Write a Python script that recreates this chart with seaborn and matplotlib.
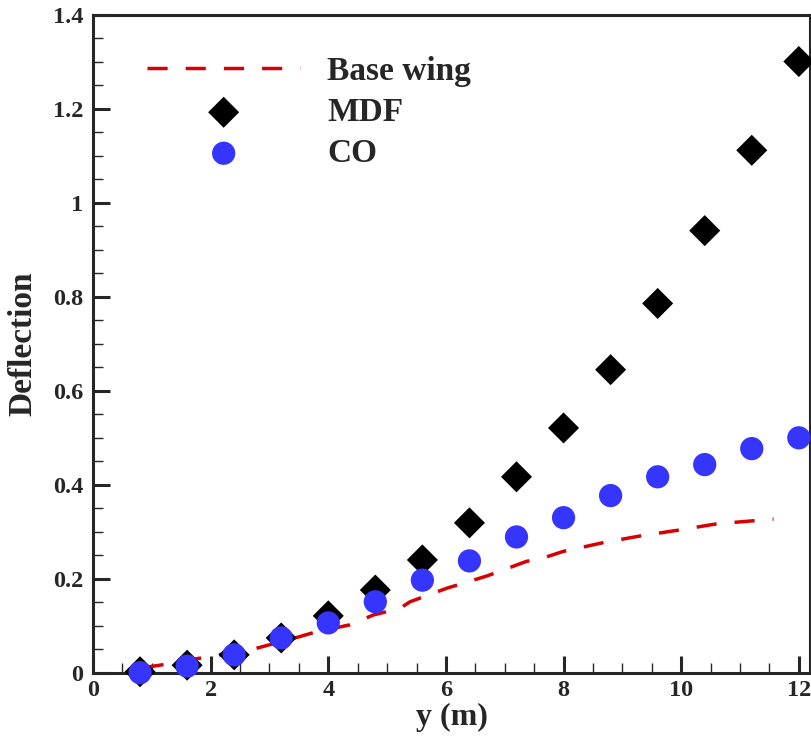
import numpy as np
import pandas as pd
import matplotlib
matplotlib.use("Agg")
import matplotlib.pyplot as plt
from matplotlib.ticker import MultipleLocator, FuncFormatter
import seaborn as sns

# ---- data ----
span_pts = [0.8, 1.6, 2.4, 3.2, 4.0, 4.8, 5.6, 6.4, 7.2, 8.0, 8.8, 9.6, 10.4, 11.2, 12.0]
mdf_defl = [0.002, 0.016, 0.038, 0.074, 0.121, 0.176, 0.240, 0.319, 0.417, 0.521,
            0.645, 0.786, 0.941, 1.112, 1.301]
co_defl = [0.000, 0.014, 0.038, 0.074, 0.106, 0.151, 0.197, 0.238, 0.289, 0.330,
           0.377, 0.417, 0.443, 0.477, 0.500]
base_y = [0.86, 1.14, 1.82, 2.78, 3.52, 3.74, 4.37, 4.77, 5.22, 5.39, 6.02, 6.70,
          7.37, 7.65, 7.99, 8.68, 9.30, 9.98, 10.61, 11.29, 11.57]
base_defl = [0.011, 0.016, 0.031, 0.052, 0.077, 0.085, 0.102, 0.123, 0.137, 0.151,
             0.180, 0.206, 0.237, 0.244, 0.258, 0.277, 0.291, 0.304, 0.317, 0.324, 0.327]
x_ticks = [0, 2, 4, 6, 8, 10, 12]
y_ticks = [0, 0.2, 0.4, 0.6, 0.8, 1.0, 1.2, 1.4]

sns.set_style("ticks")
plt.rcParams["font.family"] = ["Liberation Serif", "DejaVu Serif"]
plt.rcParams["font.weight"] = "bold"

fig = plt.figure(figsize=(8.12, 7.37), dpi=100)
ax = fig.add_axes([93 / 812, 1 - 672.7 / 737, (810 - 93) / 812, (672.7 - 15) / 737])

base_df = pd.DataFrame({"y": base_y, "d": base_defl})
mdf_df = pd.DataFrame({"y": span_pts, "d": mdf_defl})
co_df = pd.DataFrame({"y": span_pts, "d": co_defl})

sns.lineplot(data=base_df, x="y", y="d", ax=ax, color="#d80000", lw=2.5,
             linestyle=(0, (5.8, 5.2)), label="Base wing", zorder=3)
sns.scatterplot(data=mdf_df, x="y", y="d", ax=ax, marker="D", color="black",
                s=250, edgecolor="none", label="MDF", zorder=5, clip_on=False)
sns.scatterplot(data=co_df, x="y", y="d", ax=ax, marker="o", color="#3535ff",
                s=280, edgecolor="none", label="CO", zorder=6, clip_on=False)

ax.set_xlim(0, 12.19)
ax.set_ylim(0, 1.4)
ax.set_xticks(x_ticks)
ax.set_yticks(y_ticks)
fmt = FuncFormatter(lambda v, p: "%g" % v)
ax.xaxis.set_major_formatter(fmt)
ax.yaxis.set_major_formatter(fmt)
ax.xaxis.set_minor_locator(MultipleLocator(0.5))
ax.yaxis.set_minor_locator(MultipleLocator(0.05))
ax.tick_params(which="major", direction="in", length=12, width=2.2, labelsize=17.5,
               top=False, right=False)
ax.tick_params(axis="x", which="major", pad=5)
ax.tick_params(axis="y", which="major", pad=7)
ax.tick_params(which="minor", direction="in", length=7, width=1.0,
               top=False, right=False)
for lab in ax.get_xticklabels() + ax.get_yticklabels():
    lab.set_fontweight("bold")
for side in ["left", "bottom", "top"]:
    ax.spines[side].set_linewidth(2.2)
ax.spines["right"].set_linewidth(1.5)

ax.set_xlabel("y (m)", fontsize=23, fontweight="bold")
ax.set_ylabel("Deflection", fontsize=24, fontweight="bold")
ax.xaxis.set_label_coords(0.5, (672.7 - 703) / 657.7)
ax.yaxis.set_label_coords((38 - 93) / 717, 0.5)

leg = ax.legend(loc="upper left", bbox_to_anchor=(147 / 812, 1 - 56 / 737),
                bbox_transform=fig.transFigure, frameon=False, fontsize=24,
                borderpad=0, borderaxespad=0, handlelength=4.6, handletextpad=0.8,
                labelspacing=0.3, markerscale=1.0)
for t in leg.get_texts():
    t.set_fontweight("bold")

fig.savefig("out.png", dpi=100)
